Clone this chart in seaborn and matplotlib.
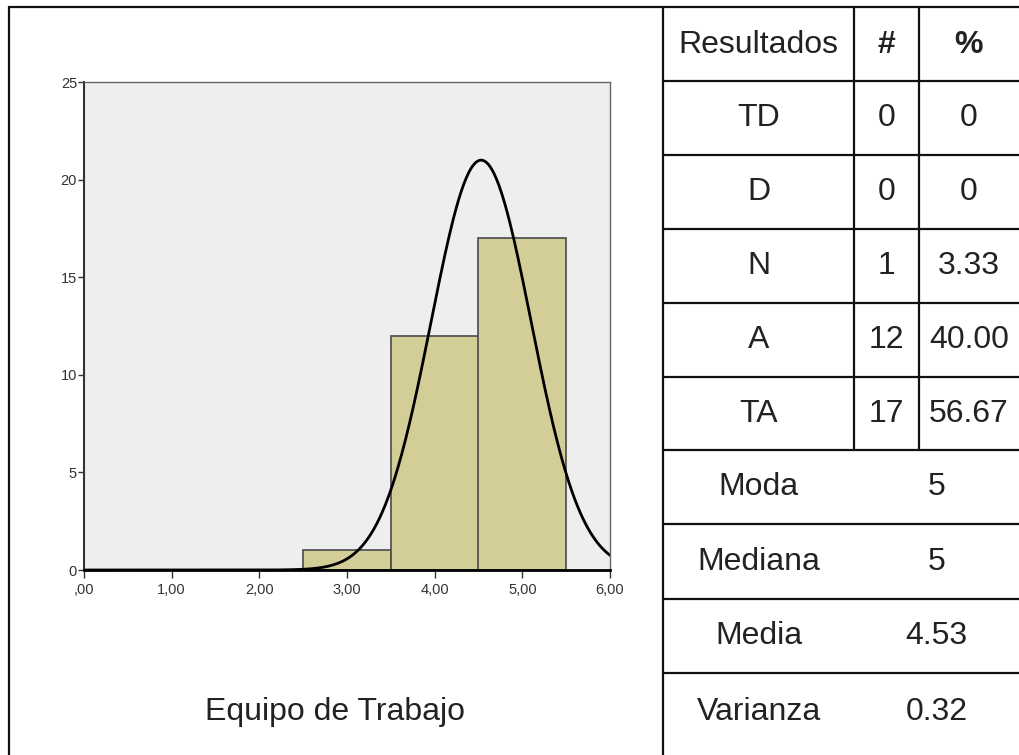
#
# Histogram with normal curve + summary table (Equipo de Trabajo)
#

import numpy as np
import matplotlib.pyplot as plt
import seaborn as sns

# data
scores = [3, 4, 5]
counts = [1, 12, 17]
bin_edges = [2.5, 3.5, 4.5, 5.5]
media = 4.53
varianza = 0.32
desv = 0.57

categorias = ['TD', 'D', 'N', 'A', 'TA']
frecuencia = ['0', '0', '1', '12', '17']
porcentaje = ['0', '0', '3.33', '40.00', '56.67']
estadisticos = ['Moda', 'Mediana', 'Media', 'Varianza']
valores_est = ['5', '5', '4.53', '0.32']

x_ticks = [0, 1, 2, 3, 4, 5, 6]
x_ticklabels = [',00', '1,00', '2,00', '3,00', '4,00', '5,00', '6,00']
y_ticks = [0, 5, 10, 15, 20, 25]

W, H = 1019, 755
sns.set_theme(style="white")
plt.rcParams['font.family'] = ['Liberation Sans', 'DejaVu Sans']

fig = plt.figure(figsize=(W / 100, H / 100), dpi=100)

# histogram panel
ax = fig.add_axes([84 / W, 1 - 570 / H, (610 - 84) / W, (570 - 82) / H])
ax.set_facecolor('#eeeeee')
sns.histplot(x=scores, weights=counts, bins=bin_edges, ax=ax,
             color='#d3ce97', alpha=1, edgecolor='#4a4a4a', linewidth=1.2)

xs = np.linspace(0, 6, 400)
ys = sum(counts) * 1.0 / (desv * np.sqrt(2 * np.pi)) * np.exp(-0.5 * ((xs - media) / desv) ** 2)
sns.lineplot(x=xs, y=ys, ax=ax, color='black', linewidth=2)

ax.set_xlim(0, 6)
ax.set_ylim(0, 25)
ax.set_xticks(x_ticks)
ax.set_xticklabels(x_ticklabels)
ax.set_yticks(y_ticks)
ax.set_xlabel('')
ax.set_ylabel('')
ax.tick_params(axis='x', direction='out', length=6, width=1, color='#333333',
               labelsize=10.5, pad=3, labelcolor='#333333', bottom=True)
ax.tick_params(axis='y', direction='out', length=4, width=1, color='#333333',
               labelsize=10.5, pad=1, labelcolor='#333333', left=True)
for lab in ax.get_xticklabels() + ax.get_yticklabels():
    lab.set_family(['Liberation Sans Narrow', 'Liberation Sans', 'DejaVu Sans'])
for s in ['top', 'right']:
    ax.spines[s].set_color('#666666')
    ax.spines[s].set_linewidth(1)
ax.spines['left'].set_color('#333333')
ax.spines['left'].set_linewidth(1.5)
ax.spines['bottom'].set_color('black')
ax.spines['bottom'].set_linewidth(2)

# overlay for the table frame, in pixel units
ov = fig.add_axes([0, 0, 1, 1], facecolor='none')
ov.set_xlim(0, W)
ov.set_ylim(H, 0)
ov.axis('off')

lc = '#111111'
lw = 1.6
ov.plot([9, 9], [7, H], color=lc, lw=lw)
ov.plot([9, W], [7, 7], color=lc, lw=lw)
ov.plot([663, 663], [7, H], color=lc, lw=lw)
ov.plot([854, 854], [7, 450], color=lc, lw=lw)
ov.plot([919, 919], [7, 450], color=lc, lw=lw)

row_lines = [81, 155, 229, 303, 377, 450, 524, 599, 673]
for yl in row_lines:
    ov.plot([663, W], [yl, yl], color=lc, lw=lw)

tc = '#222222'
fs = 23
col1, col2, col3 = (663 + 854) / 2, (854 + 919) / 2, (919 + 1019) / 2
ov.text(col1, 45, 'Resultados', ha='center', va='center', fontsize=fs, color=tc)
ov.text(col2, 45, '#', ha='center', va='center', fontsize=fs, color=tc, fontweight='bold')
ov.text(col3, 45, '%', ha='center', va='center', fontsize=fs, color=tc, fontweight='bold')

for i, (cat, n, p) in enumerate(zip(categorias, frecuencia, porcentaje)):
    yc = (row_lines[i] + row_lines[i + 1]) / 2
    ov.text(col1, yc, cat, ha='center', va='center', fontsize=fs, color=tc)
    ov.text(col2, yc, n, ha='center', va='center', fontsize=fs, color=tc)
    ov.text(col3, yc, p, ha='center', va='center', fontsize=fs, color=tc)

for j, (nm, v) in enumerate(zip(estadisticos, valores_est)):
    y0 = row_lines[5 + j]
    y1 = row_lines[6 + j] if 6 + j < len(row_lines) else 750
    yc = (y0 + y1) / 2
    ov.text(col1, yc, nm, ha='center', va='center', fontsize=fs, color=tc)
    ov.text((854 + 1019) / 2, yc, v, ha='center', va='center', fontsize=fs, color=tc)

ov.text(335, 712, 'Equipo de Trabajo', ha='center', va='center', fontsize=fs, color=tc)

fig.savefig('out.png', dpi=100)
